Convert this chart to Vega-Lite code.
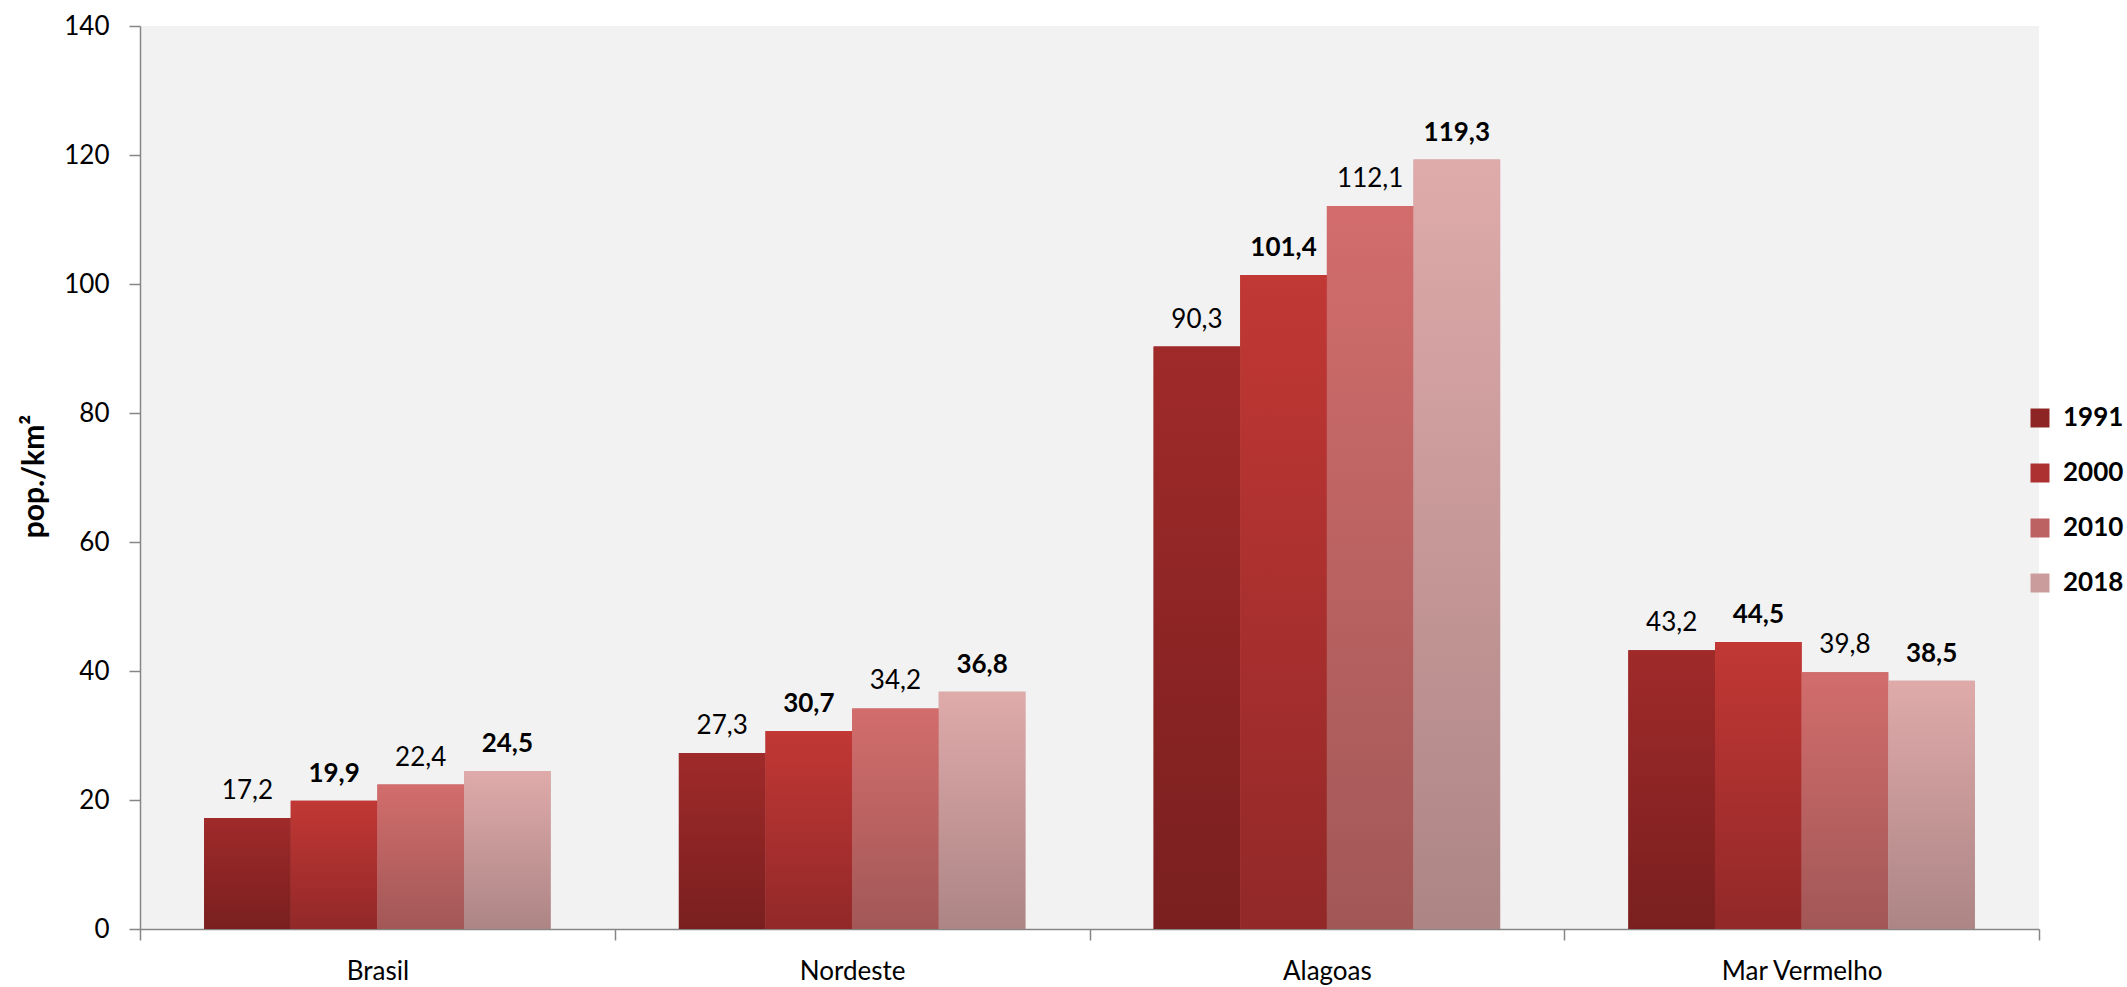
{
  "$schema": "https://vega.github.io/schema/vega-lite/v6.json",
  "autosize": {"type": "none"},
  "width": 1899,
  "height": 903,
  "padding": {"left": 140, "top": 26, "right": 88, "bottom": 58},
  "background": "#ffffff",
  "config": {
    "view": {"fill": "#f2f2f2", "stroke": null},
    "font": "Lato",
    "locale": {"number": {"decimal": ",", "thousands": ".", "grouping": [3], "currency": ["R$", ""]}},
    "axis": {"labelFont": "Lato", "titleFont": "Lato", "labelColor": "#000000", "titleColor": "#000000", "domainColor": "#868686", "tickColor": "#868686", "domainWidth": 1.5, "tickWidth": 1.5}
  },
  "data": {
    "values": [
      {"regiao": "Brasil", "ano": "1991", "valor": 17.2},
      {"regiao": "Brasil", "ano": "2000", "valor": 19.9},
      {"regiao": "Brasil", "ano": "2010", "valor": 22.4},
      {"regiao": "Brasil", "ano": "2018", "valor": 24.5},
      {"regiao": "Nordeste", "ano": "1991", "valor": 27.3},
      {"regiao": "Nordeste", "ano": "2000", "valor": 30.7},
      {"regiao": "Nordeste", "ano": "2010", "valor": 34.2},
      {"regiao": "Nordeste", "ano": "2018", "valor": 36.8},
      {"regiao": "Alagoas", "ano": "1991", "valor": 90.3},
      {"regiao": "Alagoas", "ano": "2000", "valor": 101.4},
      {"regiao": "Alagoas", "ano": "2010", "valor": 112.1},
      {"regiao": "Alagoas", "ano": "2018", "valor": 119.3},
      {"regiao": "Mar Vermelho", "ano": "1991", "valor": 43.2},
      {"regiao": "Mar Vermelho", "ano": "2000", "valor": 44.5},
      {"regiao": "Mar Vermelho", "ano": "2010", "valor": 39.8},
      {"regiao": "Mar Vermelho", "ano": "2018", "valor": 38.5}
    ]
  },
  "encoding": {
    "x": {
      "field": "regiao", "type": "nominal", "sort": ["Brasil", "Nordeste", "Alagoas", "Mar Vermelho"],
      "scale": {"paddingInner": 0, "paddingOuter": 0},
      "axis": {"title": null, "labelAngle": 0, "labelFontSize": 26, "labelPadding": 18, "tickSize": 11, "tickBand": "extent"}
    },
    "xOffset": {"field": "ano", "type": "nominal", "scale": {"domain": ["1991", "2000", "2010", "2018"], "paddingInner": 0, "paddingOuter": 0.74}},
    "y": {
      "field": "valor", "type": "quantitative",
      "scale": {"domain": [0, 140], "nice": false},
      "axis": {"title": "pop./km²", "titleFontSize": 30, "titleFontWeight": "bold", "titleX": -106, "titleY": 450, "titleBaseline": "middle", "titleAngle": -90, "values": [0, 20, 40, 60, 80, 100, 120, 140], "grid": false, "labelFontSize": 26, "labelPadding": 20, "tickSize": 11}
    }
  },
  "layer": [
    {
      "mark": {"type": "bar"},
      "encoding": {
        "color": {
          "field": "ano", "type": "nominal",
          "scale": {"domain": ["1991", "2000", "2010", "2018"], "range": ["#8d2525", "#ad3130", "#bd6262", "#cb9c9c"]},
          "legend": {
            "title": null, "orient": "none", "legendX": 1887, "legendY": 379,
            "symbolType": "square", "symbolSize": 360, "symbolStrokeWidth": 0,
            "labelFontSize": 26, "labelFontWeight": "bold", "labelFont": "Lato", "labelColor": "#000000",
            "rowPadding": 29, "labelOffset": 10
          }
        }
      }
    },
    {
      "transform": [{"filter": "datum.ano == '1991'"}],
      "mark": {"type": "bar", "fill": {"gradient": "linear", "x1": 0, "y1": 0, "x2": 0, "y2": 1, "stops": [{"offset": 0, "color": "#a02a2a"}, {"offset": 1, "color": "#7a1f1f"}]}}
    },
    {
      "transform": [{"filter": "datum.ano == '2000'"}],
      "mark": {"type": "bar", "fill": {"gradient": "linear", "x1": 0, "y1": 0, "x2": 0, "y2": 1, "stops": [{"offset": 0, "color": "#c13835"}, {"offset": 1, "color": "#922828"}]}}
    },
    {
      "transform": [{"filter": "datum.ano == '2010'"}],
      "mark": {"type": "bar", "fill": {"gradient": "linear", "x1": 0, "y1": 0, "x2": 0, "y2": 1, "stops": [{"offset": 0, "color": "#d26d6c"}, {"offset": 1, "color": "#a25757"}]}}
    },
    {
      "transform": [{"filter": "datum.ano == '2018'"}],
      "mark": {"type": "bar", "fill": {"gradient": "linear", "x1": 0, "y1": 0, "x2": 0, "y2": 1, "stops": [{"offset": 0, "color": "#dfaaaa"}, {"offset": 1, "color": "#ad8585"}]}}
    },
    {
      "transform": [{"filter": "datum.ano == '1991' || datum.ano == '2010'"}],
      "mark": {"type": "text", "baseline": "alphabetic", "dy": -19, "fontSize": 26, "fontWeight": "normal", "color": "#000000"},
      "encoding": {"text": {"field": "valor", "type": "quantitative", "format": ".1f"}}
    },
    {
      "transform": [{"filter": "datum.ano == '2000' || datum.ano == '2018'"}],
      "mark": {"type": "text", "baseline": "alphabetic", "dy": -19, "fontSize": 26, "fontWeight": "bold", "color": "#000000"},
      "encoding": {"text": {"field": "valor", "type": "quantitative", "format": ".1f"}}
    }
  ]
}
